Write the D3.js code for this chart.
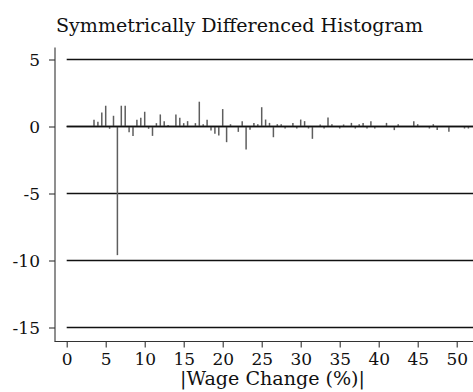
<!DOCTYPE html>
<html>
<head>
<meta charset="utf-8">
<script src="https://cdn.jsdelivr.net/npm/d3@7"></script>
<style>
  html, body { margin: 0; padding: 0; background: #fff; }
  svg { display: block; }
  text { font-family: "DejaVu Serif", "Liberation Serif", serif; fill: #111; }
</style>
</head>
<body>
<svg id="chart" width="473" height="392"></svg>
<script>
// Absolute wage change bins (%), half-percent steps
const bins = [
  3.5, 4.0, 4.5, 5.0, 5.5, 6.0, 6.5, 7.0, 7.5, 8.0, 8.5, 9.0, 9.5, 10.0, 10.5, 11.0,
  11.5, 12.0, 12.5, 13.0, 14.0, 14.5, 15.0, 15.5, 16.5, 17.0, 17.5, 18.0, 18.5, 19.0,
  19.5, 20.0, 20.5, 21.0, 22.0, 22.5, 23.0, 23.5, 24.0, 24.5, 25.0, 25.5, 26.0, 26.5,
  27.0, 27.5, 28.0, 29.0, 29.5, 30.0, 30.5, 31.0, 31.5, 32.5, 33.0, 33.5, 34.0, 35.0,
  35.5, 36.5, 37.0, 37.5, 38.0, 38.5, 39.0, 39.5, 41.0, 42.0, 42.5, 44.5, 45.0, 46.5,
  47.0, 47.5, 49.0, 51.0, 51.5
];
// Symmetric difference in density for each bin
const diffs = [
  0.5, 0.35, 1.05, 1.55, -0.17, 0.8, -9.6, 1.55, 1.55, -0.42, -0.7, 0.5, 0.65, 1.1, -0.17, -0.7,
  0.25, 0.9, 0.4, 0.12, 0.9, 0.65, 0.25, 0.4, 0.25, 1.85, 0.17, 0.5, -0.3, -0.55,
  -0.67, 1.3, -1.17, 0.17, -0.4, 0.4, -1.72, -0.25, 0.27, 0.17, 1.44, 0.52, 0.27, -0.8,
  0.17, 0.17, -0.15, 0.27, -0.15, 0.52, 0.4, -0.15, -0.92, 0.15, -0.15, 0.67, 0.17, -0.15,
  0.15, 0.27, -0.15, 0.17, 0.27, -0.15, 0.4, -0.15, 0.27, -0.27, 0.17, 0.4, 0.17, -0.15,
  0.17, -0.27, -0.4, -0.15, -0.15
];
const xTicks = [0, 5, 10, 15, 20, 25, 30, 35, 40, 45, 50];
const yTicks = [5, 0, -5, -10, -15];

const titleText = "Symmetrically Differenced Histogram";
const xTitleText = "|Wage Change (%)|";

const W = 473, H = 392;
const svg = d3.select("#chart");

const x = d3.scaleLinear().domain([0, 50]).range([66.7, 456.7]);
const y = d3.scaleLinear().domain([-15, 5]).range([327, 59]);

const axisX = 55;        // left axis line position
const axisY = 341;       // bottom axis line position
const plotTop = 47;

// clip for the plot region
svg.append("defs").append("clipPath").attr("id", "plotclip")
  .append("rect").attr("x", axisX).attr("y", plotTop).attr("width", W - axisX).attr("height", axisY - plotTop);

const plot = svg.append("g").attr("clip-path", "url(#plotclip)");

// horizontal grid lines at y ticks
plot.selectAll("line.grid").data(yTicks).join("line")
  .attr("class", "grid")
  .attr("x1", x(0)).attr("x2", W + 10)
  .attr("y1", d => y(d) + 0.5).attr("y2", d => y(d) + 0.5)
  .attr("stroke", "#111").attr("stroke-width", 1.3);

// spikes
const data = bins.map((b, i) => ({ b, v: diffs[i] }));
plot.selectAll("line.spike").data(data).join("line")
  .attr("class", "spike")
  .attr("x1", d => x(d.b)).attr("x2", d => x(d.b))
  .attr("y1", y(0) + 0.5).attr("y2", d => y(d.v) + 0.5)
  .attr("stroke", "#5e5e5e").attr("stroke-width", 1.5);

// redraw zero line over spike bases
plot.append("line")
  .attr("x1", x(0)).attr("x2", W + 10)
  .attr("y1", y(0) + 0.5).attr("y2", y(0) + 0.5)
  .attr("stroke", "#111").attr("stroke-width", 1.3);

// y axis
const yAxis = d3.axisLeft(y).tickValues(yTicks).tickSize(6).tickPadding(9)
  .tickFormat(d => String(d));
const gy = svg.append("g").attr("transform", `translate(${axisX},0.5)`).call(yAxis);
gy.select(".domain").remove();
gy.append("line").attr("x1", 0).attr("x2", 0).attr("y1", plotTop).attr("y2", axisY)
  .attr("stroke", "#333").attr("stroke-width", 1.1);
gy.selectAll(".tick line").attr("stroke", "#333").attr("stroke-width", 1.1);
gy.selectAll(".tick text")
  .style("font-family", '"DejaVu Serif", serif').style("font-size", "17px")
  .attr("fill", "#111").attr("dy", "0.36em");

// x axis
const xAxis = d3.axisBottom(x).tickValues(xTicks).tickSize(6).tickPadding(5)
  .tickFormat(d => String(d));
const gx = svg.append("g").attr("transform", `translate(0,${axisY + 0.5})`).call(xAxis);
gx.select(".domain").remove();
gx.append("line").attr("x1", axisX - 0.5).attr("x2", W).attr("y1", 0).attr("y2", 0)
  .attr("stroke", "#333").attr("stroke-width", 1.1);
gx.selectAll(".tick line").attr("stroke", "#333").attr("stroke-width", 1.1);
gx.selectAll(".tick text")
  .style("font-family", '"DejaVu Serif", serif').style("font-size", "17px")
  .attr("fill", "#111");

// fit a text element's font size to a target width
function fitWidth(sel, target) {
  const node = sel.node();
  const w = node.getComputedTextLength();
  const fs = parseFloat(sel.style("font-size"));
  sel.style("font-size", (fs * target / w).toFixed(2) + "px");
}

// title
const title = svg.append("text")
  .attr("x", 56).attr("y", 31.5)
  .style("font-size", "17px")
  .text(titleText);
fitWidth(title, 367);

// x axis title
const xTitle = svg.append("text")
  .attr("x", 272.5).attr("y", 385)
  .attr("text-anchor", "middle")
  .style("font-size", "17px")
  .text(xTitleText);
fitWidth(xTitle, 185);
</script>
</body>
</html>
